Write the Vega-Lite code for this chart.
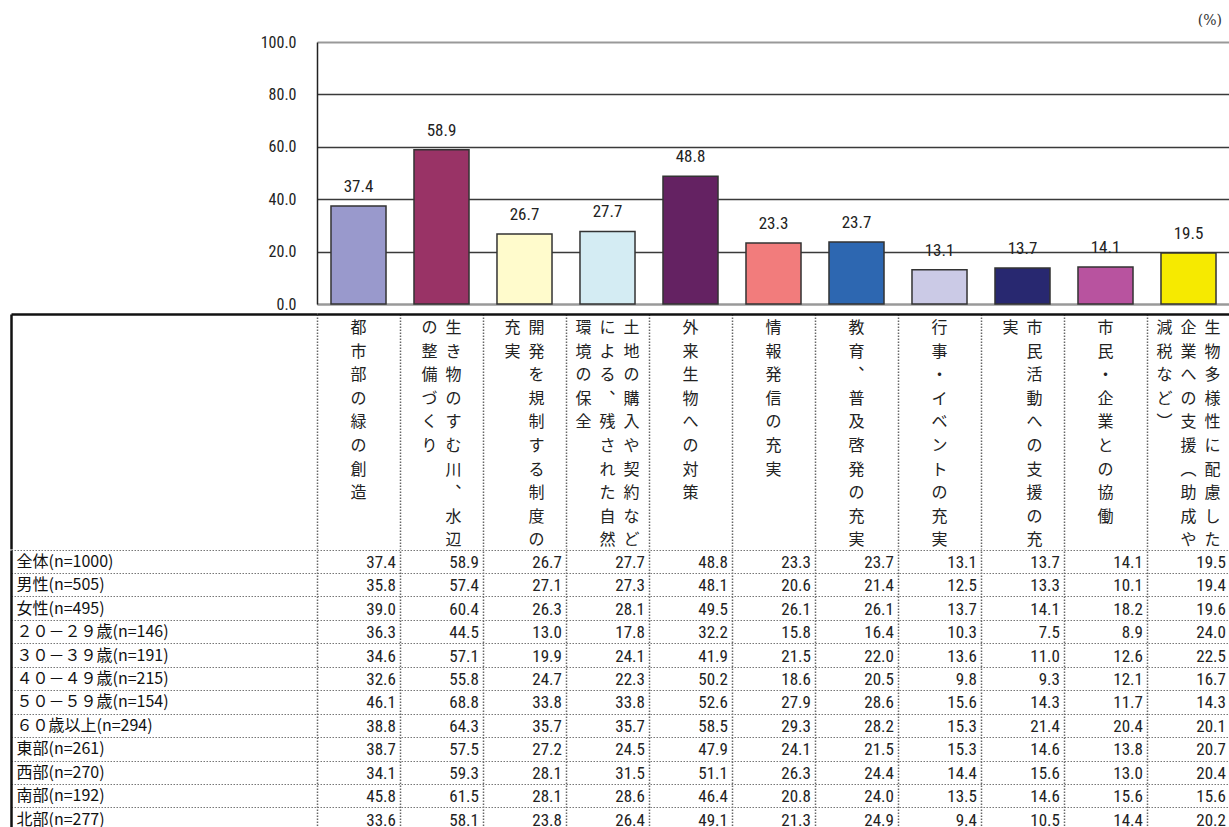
{
 "$schema": "https://vega.github.io/schema/vega-lite/v6.json",
 "padding": {"left": 9, "top": 14, "right": 0, "bottom": 0},
 "spacing": 0,
 "config": {"view": {"stroke": null}, "font": "Noto Sans CJK JP", "axis": {"minExtent": 0}, "concat": {"spacing": 0}},
 "resolve": {"scale": {"x": "independent", "y": "independent", "color": "independent"}},
 "datasets": {
  "header": [
   {"item": "都市部の緑の創造", "line": "都市部の緑の創造", "seg": 1, "n": 1},
   {"item": "生き物のすむ川、水辺の整備づくり", "line": "生き物のすむ川︑水辺", "seg": 1, "n": 2},
   {"item": "生き物のすむ川、水辺の整備づくり", "line": "の整備づくり", "seg": 2, "n": 2},
   {"item": "開発を規制する制度の充実", "line": "開発を規制する制度の", "seg": 1, "n": 2},
   {"item": "開発を規制する制度の充実", "line": "充実", "seg": 2, "n": 2},
   {"item": "土地の購入や契約などによる、残された自然環境の保全", "line": "土地の購入や契約など", "seg": 1, "n": 3},
   {"item": "土地の購入や契約などによる、残された自然環境の保全", "line": "による︑残された自然", "seg": 2, "n": 3},
   {"item": "土地の購入や契約などによる、残された自然環境の保全", "line": "環境の保全", "seg": 3, "n": 3},
   {"item": "外来生物への対策", "line": "外来生物への対策", "seg": 1, "n": 1},
   {"item": "情報発信の充実", "line": "情報発信の充実", "seg": 1, "n": 1},
   {"item": "教育、普及啓発の充実", "line": "教育︑普及啓発の充実", "seg": 1, "n": 1},
   {"item": "行事・イベントの充実", "line": "行事・イベントの充実", "seg": 1, "n": 1},
   {"item": "市民活動への支援の充実", "line": "市民活動への支援の充", "seg": 1, "n": 2},
   {"item": "市民活動への支援の充実", "line": "実", "seg": 2, "n": 2},
   {"item": "市民・企業との協働", "line": "市民・企業との協働", "seg": 1, "n": 1},
   {"item": "生物多様性に配慮した企業への支援（助成や減税など）", "line": "生物多様性に配慮した", "seg": 1, "n": 3},
   {"item": "生物多様性に配慮した企業への支援（助成や減税など）", "line": "企業への支援︵助成や", "seg": 2, "n": 3},
   {"item": "生物多様性に配慮した企業への支援（助成や減税など）", "line": "減税など︶", "seg": 3, "n": 3}
  ],
  "table": [
   {"group": "全体(n=1000)", "item": "都市部の緑の創造", "value": 37.4},
   {"group": "全体(n=1000)", "item": "生き物のすむ川、水辺の整備づくり", "value": 58.9},
   {"group": "全体(n=1000)", "item": "開発を規制する制度の充実", "value": 26.7},
   {"group": "全体(n=1000)", "item": "土地の購入や契約などによる、残された自然環境の保全", "value": 27.7},
   {"group": "全体(n=1000)", "item": "外来生物への対策", "value": 48.8},
   {"group": "全体(n=1000)", "item": "情報発信の充実", "value": 23.3},
   {"group": "全体(n=1000)", "item": "教育、普及啓発の充実", "value": 23.7},
   {"group": "全体(n=1000)", "item": "行事・イベントの充実", "value": 13.1},
   {"group": "全体(n=1000)", "item": "市民活動への支援の充実", "value": 13.7},
   {"group": "全体(n=1000)", "item": "市民・企業との協働", "value": 14.1},
   {"group": "全体(n=1000)", "item": "生物多様性に配慮した企業への支援（助成や減税など）", "value": 19.5},
   {"group": "男性(n=505)", "item": "都市部の緑の創造", "value": 35.8},
   {"group": "男性(n=505)", "item": "生き物のすむ川、水辺の整備づくり", "value": 57.4},
   {"group": "男性(n=505)", "item": "開発を規制する制度の充実", "value": 27.1},
   {"group": "男性(n=505)", "item": "土地の購入や契約などによる、残された自然環境の保全", "value": 27.3},
   {"group": "男性(n=505)", "item": "外来生物への対策", "value": 48.1},
   {"group": "男性(n=505)", "item": "情報発信の充実", "value": 20.6},
   {"group": "男性(n=505)", "item": "教育、普及啓発の充実", "value": 21.4},
   {"group": "男性(n=505)", "item": "行事・イベントの充実", "value": 12.5},
   {"group": "男性(n=505)", "item": "市民活動への支援の充実", "value": 13.3},
   {"group": "男性(n=505)", "item": "市民・企業との協働", "value": 10.1},
   {"group": "男性(n=505)", "item": "生物多様性に配慮した企業への支援（助成や減税など）", "value": 19.4},
   {"group": "女性(n=495)", "item": "都市部の緑の創造", "value": 39.0},
   {"group": "女性(n=495)", "item": "生き物のすむ川、水辺の整備づくり", "value": 60.4},
   {"group": "女性(n=495)", "item": "開発を規制する制度の充実", "value": 26.3},
   {"group": "女性(n=495)", "item": "土地の購入や契約などによる、残された自然環境の保全", "value": 28.1},
   {"group": "女性(n=495)", "item": "外来生物への対策", "value": 49.5},
   {"group": "女性(n=495)", "item": "情報発信の充実", "value": 26.1},
   {"group": "女性(n=495)", "item": "教育、普及啓発の充実", "value": 26.1},
   {"group": "女性(n=495)", "item": "行事・イベントの充実", "value": 13.7},
   {"group": "女性(n=495)", "item": "市民活動への支援の充実", "value": 14.1},
   {"group": "女性(n=495)", "item": "市民・企業との協働", "value": 18.2},
   {"group": "女性(n=495)", "item": "生物多様性に配慮した企業への支援（助成や減税など）", "value": 19.6},
   {"group": "２０－２９歳(n=146)", "item": "都市部の緑の創造", "value": 36.3},
   {"group": "２０－２９歳(n=146)", "item": "生き物のすむ川、水辺の整備づくり", "value": 44.5},
   {"group": "２０－２９歳(n=146)", "item": "開発を規制する制度の充実", "value": 13.0},
   {"group": "２０－２９歳(n=146)", "item": "土地の購入や契約などによる、残された自然環境の保全", "value": 17.8},
   {"group": "２０－２９歳(n=146)", "item": "外来生物への対策", "value": 32.2},
   {"group": "２０－２９歳(n=146)", "item": "情報発信の充実", "value": 15.8},
   {"group": "２０－２９歳(n=146)", "item": "教育、普及啓発の充実", "value": 16.4},
   {"group": "２０－２９歳(n=146)", "item": "行事・イベントの充実", "value": 10.3},
   {"group": "２０－２９歳(n=146)", "item": "市民活動への支援の充実", "value": 7.5},
   {"group": "２０－２９歳(n=146)", "item": "市民・企業との協働", "value": 8.9},
   {"group": "２０－２９歳(n=146)", "item": "生物多様性に配慮した企業への支援（助成や減税など）", "value": 24.0},
   {"group": "３０－３９歳(n=191)", "item": "都市部の緑の創造", "value": 34.6},
   {"group": "３０－３９歳(n=191)", "item": "生き物のすむ川、水辺の整備づくり", "value": 57.1},
   {"group": "３０－３９歳(n=191)", "item": "開発を規制する制度の充実", "value": 19.9},
   {"group": "３０－３９歳(n=191)", "item": "土地の購入や契約などによる、残された自然環境の保全", "value": 24.1},
   {"group": "３０－３９歳(n=191)", "item": "外来生物への対策", "value": 41.9},
   {"group": "３０－３９歳(n=191)", "item": "情報発信の充実", "value": 21.5},
   {"group": "３０－３９歳(n=191)", "item": "教育、普及啓発の充実", "value": 22.0},
   {"group": "３０－３９歳(n=191)", "item": "行事・イベントの充実", "value": 13.6},
   {"group": "３０－３９歳(n=191)", "item": "市民活動への支援の充実", "value": 11.0},
   {"group": "３０－３９歳(n=191)", "item": "市民・企業との協働", "value": 12.6},
   {"group": "３０－３９歳(n=191)", "item": "生物多様性に配慮した企業への支援（助成や減税など）", "value": 22.5},
   {"group": "４０－４９歳(n=215)", "item": "都市部の緑の創造", "value": 32.6},
   {"group": "４０－４９歳(n=215)", "item": "生き物のすむ川、水辺の整備づくり", "value": 55.8},
   {"group": "４０－４９歳(n=215)", "item": "開発を規制する制度の充実", "value": 24.7},
   {"group": "４０－４９歳(n=215)", "item": "土地の購入や契約などによる、残された自然環境の保全", "value": 22.3},
   {"group": "４０－４９歳(n=215)", "item": "外来生物への対策", "value": 50.2},
   {"group": "４０－４９歳(n=215)", "item": "情報発信の充実", "value": 18.6},
   {"group": "４０－４９歳(n=215)", "item": "教育、普及啓発の充実", "value": 20.5},
   {"group": "４０－４９歳(n=215)", "item": "行事・イベントの充実", "value": 9.8},
   {"group": "４０－４９歳(n=215)", "item": "市民活動への支援の充実", "value": 9.3},
   {"group": "４０－４９歳(n=215)", "item": "市民・企業との協働", "value": 12.1},
   {"group": "４０－４９歳(n=215)", "item": "生物多様性に配慮した企業への支援（助成や減税など）", "value": 16.7},
   {"group": "５０－５９歳(n=154)", "item": "都市部の緑の創造", "value": 46.1},
   {"group": "５０－５９歳(n=154)", "item": "生き物のすむ川、水辺の整備づくり", "value": 68.8},
   {"group": "５０－５９歳(n=154)", "item": "開発を規制する制度の充実", "value": 33.8},
   {"group": "５０－５９歳(n=154)", "item": "土地の購入や契約などによる、残された自然環境の保全", "value": 33.8},
   {"group": "５０－５９歳(n=154)", "item": "外来生物への対策", "value": 52.6},
   {"group": "５０－５９歳(n=154)", "item": "情報発信の充実", "value": 27.9},
   {"group": "５０－５９歳(n=154)", "item": "教育、普及啓発の充実", "value": 28.6},
   {"group": "５０－５９歳(n=154)", "item": "行事・イベントの充実", "value": 15.6},
   {"group": "５０－５９歳(n=154)", "item": "市民活動への支援の充実", "value": 14.3},
   {"group": "５０－５９歳(n=154)", "item": "市民・企業との協働", "value": 11.7},
   {"group": "５０－５９歳(n=154)", "item": "生物多様性に配慮した企業への支援（助成や減税など）", "value": 14.3},
   {"group": "６０歳以上(n=294)", "item": "都市部の緑の創造", "value": 38.8},
   {"group": "６０歳以上(n=294)", "item": "生き物のすむ川、水辺の整備づくり", "value": 64.3},
   {"group": "６０歳以上(n=294)", "item": "開発を規制する制度の充実", "value": 35.7},
   {"group": "６０歳以上(n=294)", "item": "土地の購入や契約などによる、残された自然環境の保全", "value": 35.7},
   {"group": "６０歳以上(n=294)", "item": "外来生物への対策", "value": 58.5},
   {"group": "６０歳以上(n=294)", "item": "情報発信の充実", "value": 29.3},
   {"group": "６０歳以上(n=294)", "item": "教育、普及啓発の充実", "value": 28.2},
   {"group": "６０歳以上(n=294)", "item": "行事・イベントの充実", "value": 15.3},
   {"group": "６０歳以上(n=294)", "item": "市民活動への支援の充実", "value": 21.4},
   {"group": "６０歳以上(n=294)", "item": "市民・企業との協働", "value": 20.4},
   {"group": "６０歳以上(n=294)", "item": "生物多様性に配慮した企業への支援（助成や減税など）", "value": 20.1},
   {"group": "東部(n=261)", "item": "都市部の緑の創造", "value": 38.7},
   {"group": "東部(n=261)", "item": "生き物のすむ川、水辺の整備づくり", "value": 57.5},
   {"group": "東部(n=261)", "item": "開発を規制する制度の充実", "value": 27.2},
   {"group": "東部(n=261)", "item": "土地の購入や契約などによる、残された自然環境の保全", "value": 24.5},
   {"group": "東部(n=261)", "item": "外来生物への対策", "value": 47.9},
   {"group": "東部(n=261)", "item": "情報発信の充実", "value": 24.1},
   {"group": "東部(n=261)", "item": "教育、普及啓発の充実", "value": 21.5},
   {"group": "東部(n=261)", "item": "行事・イベントの充実", "value": 15.3},
   {"group": "東部(n=261)", "item": "市民活動への支援の充実", "value": 14.6},
   {"group": "東部(n=261)", "item": "市民・企業との協働", "value": 13.8},
   {"group": "東部(n=261)", "item": "生物多様性に配慮した企業への支援（助成や減税など）", "value": 20.7},
   {"group": "西部(n=270)", "item": "都市部の緑の創造", "value": 34.1},
   {"group": "西部(n=270)", "item": "生き物のすむ川、水辺の整備づくり", "value": 59.3},
   {"group": "西部(n=270)", "item": "開発を規制する制度の充実", "value": 28.1},
   {"group": "西部(n=270)", "item": "土地の購入や契約などによる、残された自然環境の保全", "value": 31.5},
   {"group": "西部(n=270)", "item": "外来生物への対策", "value": 51.1},
   {"group": "西部(n=270)", "item": "情報発信の充実", "value": 26.3},
   {"group": "西部(n=270)", "item": "教育、普及啓発の充実", "value": 24.4},
   {"group": "西部(n=270)", "item": "行事・イベントの充実", "value": 14.4},
   {"group": "西部(n=270)", "item": "市民活動への支援の充実", "value": 15.6},
   {"group": "西部(n=270)", "item": "市民・企業との協働", "value": 13.0},
   {"group": "西部(n=270)", "item": "生物多様性に配慮した企業への支援（助成や減税など）", "value": 20.4},
   {"group": "南部(n=192)", "item": "都市部の緑の創造", "value": 45.8},
   {"group": "南部(n=192)", "item": "生き物のすむ川、水辺の整備づくり", "value": 61.5},
   {"group": "南部(n=192)", "item": "開発を規制する制度の充実", "value": 28.1},
   {"group": "南部(n=192)", "item": "土地の購入や契約などによる、残された自然環境の保全", "value": 28.6},
   {"group": "南部(n=192)", "item": "外来生物への対策", "value": 46.4},
   {"group": "南部(n=192)", "item": "情報発信の充実", "value": 20.8},
   {"group": "南部(n=192)", "item": "教育、普及啓発の充実", "value": 24.0},
   {"group": "南部(n=192)", "item": "行事・イベントの充実", "value": 13.5},
   {"group": "南部(n=192)", "item": "市民活動への支援の充実", "value": 14.6},
   {"group": "南部(n=192)", "item": "市民・企業との協働", "value": 15.6},
   {"group": "南部(n=192)", "item": "生物多様性に配慮した企業への支援（助成や減税など）", "value": 15.6},
   {"group": "北部(n=277)", "item": "都市部の緑の創造", "value": 33.6},
   {"group": "北部(n=277)", "item": "生き物のすむ川、水辺の整備づくり", "value": 58.1},
   {"group": "北部(n=277)", "item": "開発を規制する制度の充実", "value": 23.8},
   {"group": "北部(n=277)", "item": "土地の購入や契約などによる、残された自然環境の保全", "value": 26.4},
   {"group": "北部(n=277)", "item": "外来生物への対策", "value": 49.1},
   {"group": "北部(n=277)", "item": "情報発信の充実", "value": 21.3},
   {"group": "北部(n=277)", "item": "教育、普及啓発の充実", "value": 24.9},
   {"group": "北部(n=277)", "item": "行事・イベントの充実", "value": 9.4},
   {"group": "北部(n=277)", "item": "市民活動への支援の充実", "value": 10.5},
   {"group": "北部(n=277)", "item": "市民・企業との協働", "value": 14.4},
   {"group": "北部(n=277)", "item": "生物多様性に配慮した企業への支援（助成や減税など）", "value": 20.2}
  ]
 },
 "vconcat": [
  {
   "width": 913,
   "height": 262,
   "data": {"name": "table"},
   "transform": [{"filter": "datum.group === '全体(n=1000)'"}],
   "title": {"text": "(%)", "anchor": "end", "font": "DejaVu Serif", "fontSize": 14, "fontWeight": "normal", "color": "#333", "offset": 6, "dx": -8},
   "encoding": {
    "x": {"field": "item", "type": "nominal", "sort": null, "scale": {"type": "band", "paddingInner": 0.337, "paddingOuter": 0.1685},
          "axis": {"labels": false, "ticks": false, "title": null, "grid": false, "domainColor": "#999", "domainWidth": 2, "minExtent": 8}},
    "y": {"field": "value", "type": "quantitative", "scale": {"domain": [0, 100]},
          "axis": {"values": [0, 20, 40, 60, 80, 100], "format": ".1f", "title": null, "ticks": false, "labelPadding": 21,
                   "labelFont": "Roboto Condensed, Roboto", "labelFontSize": 16, "labelFontWeight": "normal", "labelColor": "#222",
                   "domainColor": "#222", "domainWidth": 1.5, "grid": true,
                   "gridColor": {"condition": {"test": "datum.value === 100", "value": "#999"}, "value": "#3a3a3a"},
                   "gridWidth": {"condition": {"test": "datum.value === 100", "value": 2}, "value": 1.5}}}
   },
   "layer": [
    {"mark": {"type": "bar", "stroke": "#333", "strokeWidth": 1.5},
     "encoding": {"color": {"field": "item", "type": "nominal", "sort": null, "legend": null,
       "scale": {"range": ["#9999CC", "#993366", "#FFFBCC", "#D4ECF3", "#642262", "#F27C7C", "#2D67B1", "#CBCAE6", "#282870", "#B8539F", "#F6EA00"]}}}},
    {"mark": {"type": "text", "baseline": "bottom", "dy": -10, "font": "Roboto Condensed, Roboto", "fontSize": 17, "fontWeight": "normal", "color": "#222"},
     "encoding": {"text": {"field": "value", "type": "quantitative", "format": ".1f"}}}
   ]
  },
  {
   "width": 913,
   "height": 235,
   "data": {"name": "header"},
   "transform": [{"calculate": "split(datum.line, '')", "as": "chars"}],
   "encoding": {
    "x": {"field": "item", "type": "nominal",
          "scale": {"type": "band", "paddingInner": 0, "paddingOuter": 0,
                    "domain": ["都市部の緑の創造", "生き物のすむ川、水辺の整備づくり", "開発を規制する制度の充実", "土地の購入や契約などによる、残された自然環境の保全", "外来生物への対策", "情報発信の充実", "教育、普及啓発の充実", "行事・イベントの充実", "市民活動への支援の充実", "市民・企業との協働", "生物多様性に配慮した企業への支援（助成や減税など）"]},
          "axis": {"orient": "top", "labels": false, "ticks": false, "title": null, "domainColor": "#111", "domainWidth": 2.5,
                   "grid": true, "bandPosition": 0, "gridColor": "#666", "gridDash": [1.5, 1.5], "gridWidth": 1.5, "minExtent": 0}},
    "y": {"datum": "header", "type": "nominal", "bandPosition": 0, "scale": {"type": "band", "paddingInner": 0, "paddingOuter": 0},
          "axis": {"title": null, "labels": false, "offset": 306, "domainColor": "#111", "domainWidth": 2.5,
                   "ticks": true, "tickSize": -306, "tickColor": "#111", "tickWidth": 2.5, "bandPosition": 0, "grid": false, "minExtent": 0}},
    "text": {"field": "chars", "type": "nominal"}
   },
   "layer": [
    {"transform": [{"filter": "(datum.n + 1) / 2 - datum.seg === 1"}],
     "mark": {"type": "text", "baseline": "top", "dy": 6, "dx": 24, "fontSize": 16, "lineHeight": 23.6, "color": "#222"}},
    {"transform": [{"filter": "(datum.n + 1) / 2 - datum.seg === 0.5"}],
     "mark": {"type": "text", "baseline": "top", "dy": 6, "dx": 12, "fontSize": 16, "lineHeight": 23.6, "color": "#222"}},
    {"transform": [{"filter": "(datum.n + 1) / 2 - datum.seg === 0"}],
     "mark": {"type": "text", "baseline": "top", "dy": 6, "dx": 0, "fontSize": 16, "lineHeight": 23.6, "color": "#222"}},
    {"transform": [{"filter": "(datum.n + 1) / 2 - datum.seg === -0.5"}],
     "mark": {"type": "text", "baseline": "top", "dy": 6, "dx": -12, "fontSize": 16, "lineHeight": 23.6, "color": "#222"}},
    {"transform": [{"filter": "(datum.n + 1) / 2 - datum.seg === -1"}],
     "mark": {"type": "text", "baseline": "top", "dy": 6, "dx": -24, "fontSize": 16, "lineHeight": 23.6, "color": "#222"}}
   ]
  },
  {
   "width": 913,
   "height": 281.4,
   "data": {"name": "table"},
   "mark": {"type": "text", "align": "right", "baseline": "middle", "dx": -4, "dy": 1, "font": "Roboto Condensed, Roboto", "fontSize": 17, "fontWeight": "normal", "color": "#222"},
   "encoding": {
    "x": {"field": "item", "type": "nominal", "sort": null, "bandPosition": 1, "scale": {"type": "band", "paddingInner": 0, "paddingOuter": 0},
          "axis": {"labels": false, "ticks": false, "domain": false, "title": null, "grid": true, "bandPosition": 0,
                   "gridColor": "#666", "gridDash": [1.5, 1.5], "gridWidth": 1.5, "minExtent": 0}},
    "y": {"field": "group", "type": "nominal", "sort": null, "scale": {"type": "band", "paddingInner": 0, "paddingOuter": 0},
          "axis": {"title": null, "orient": "left", "offset": 306, "bandPosition": 0, "minExtent": 0,
                   "labelAlign": "left", "labelBaseline": "middle", "labelOffset": 0, "labelPadding": 301, "labelOverlap": false, "labelLimit": 300,
                   "labelFont": "Noto Sans CJK JP", "labelFontSize": 16, "labelColor": "#111",
                   "ticks": true, "tickSize": -306, "tickColor": "#777", "tickDash": [1.5, 1.5], "tickWidth": 1,
                   "domainColor": "#111", "domainWidth": 2.5,
                   "grid": true, "gridColor": "#777", "gridDash": [1.5, 1.5], "gridWidth": 1}},
    "text": {"field": "value", "type": "quantitative", "format": ".1f"}
   }
  }
 ]
}
